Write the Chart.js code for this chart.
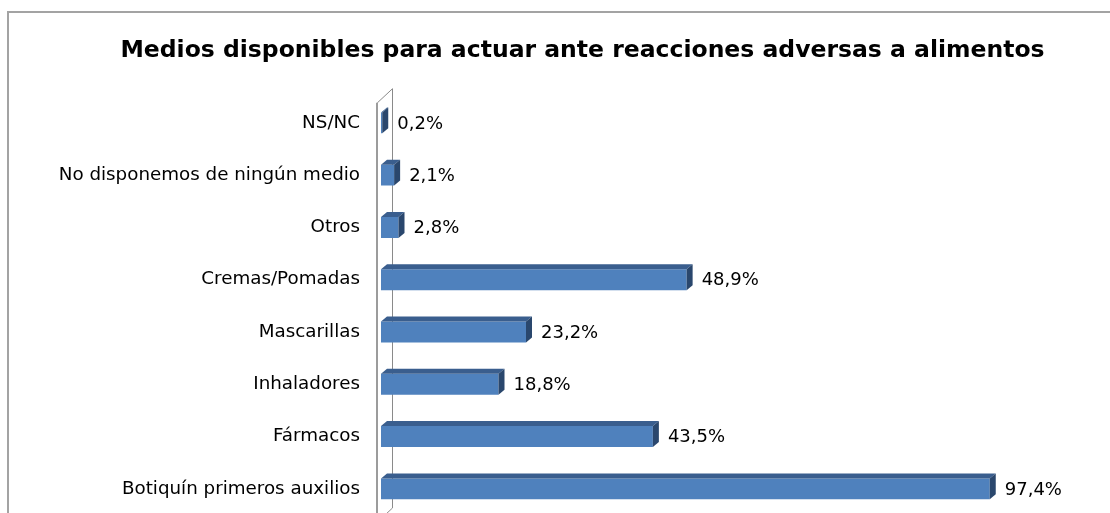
<!DOCTYPE html>
<html lang="es">
<head>
<meta charset="utf-8">
<title>Medios disponibles</title>
<script src="https://cdn.jsdelivr.net/npm/chart.js@4.4.1/dist/chart.umd.min.js"></script>
<style>
  html, body { margin: 0; padding: 0; background: #fff; overflow: hidden; }
  body { width: 1110px; height: 513px; position: relative; }
  #frame {
    position: absolute; left: 7px; top: 11px;
    border: 2px solid #a3a3a3;
    width: 1147px; height: 560px;
  }
  canvas { display: block; }
</style>
</head>
<body>
<div id="frame"><canvas id="chart" width="1147" height="540"></canvas></div>
<script>
// categorias (de arriba a abajo) y porcentajes
const categorias = [
  "NS/NC",
  "No disponemos de ningún medio",
  "Otros",
  "Cremas/Pomadas",
  "Mascarillas",
  "Inhaladores",
  "Fármacos",
  "Botiquín primeros auxilios"
];
const porcentajes = [0.2, 2.1, 2.8, 48.9, 23.2, 18.8, 43.5, 97.4];

const X_MAX = 124;
const FUENTE = "'DejaVu Sans', Verdana, sans-serif";

const colorFrente = "#4F81BD";
const colorArriba = "#3A5E8E";
const colorLado = "#2A476D";
const DX = 6, DY = 5;

// pared del fondo (efecto 3D)
const pared = {
  id: "pared",
  beforeDatasetsDraw(chart) {
    const { ctx, chartArea } = chart;
    const x0 = chart.scales.x.getPixelForValue(0);
    const fx = x0 - 3.5, bx = x0 + 11.5;
    ctx.save();
    ctx.strokeStyle = "#8a8a8a";
    ctx.lineWidth = 1;
    ctx.beginPath();
    ctx.moveTo(fx, chartArea.bottom + 7);
    ctx.lineTo(fx, chartArea.top + 6);
    ctx.lineTo(bx, chartArea.top - 8);
    ctx.lineTo(bx, chartArea.bottom - 7);
    ctx.lineTo(fx, chartArea.bottom + 7);
    ctx.stroke();
    ctx.lineWidth = 2;
    ctx.strokeStyle = "#9c9c9c";
    ctx.beginPath();
    ctx.moveTo(fx - 0.5, chartArea.bottom + 7);
    ctx.lineTo(fx - 0.5, chartArea.top + 6);
    ctx.stroke();
    ctx.restore();
  }
};

// caras superior y lateral de cada barra + etiquetas de valor
const barras3d = {
  id: "barras3d",
  afterDatasetsDraw(chart) {
    const { ctx } = chart;
    const meta = chart.getDatasetMeta(0);
    ctx.save();
    meta.data.forEach((bar, i) => {
      const p = bar.getProps(["x", "y", "base", "height"], true);
      const top = p.y - p.height / 2;
      const bottom = p.y + p.height / 2;
      // cara superior
      ctx.fillStyle = colorArriba;
      ctx.beginPath();
      ctx.moveTo(p.base, top);
      ctx.lineTo(p.base + DX, top - DY);
      ctx.lineTo(p.x + DX, top - DY);
      ctx.lineTo(p.x, top);
      ctx.closePath();
      ctx.fill();
      // cara lateral
      ctx.fillStyle = colorLado;
      ctx.beginPath();
      ctx.moveTo(p.x, top);
      ctx.lineTo(p.x + DX, top - DY);
      ctx.lineTo(p.x + DX, bottom - DY);
      ctx.lineTo(p.x, bottom);
      ctx.closePath();
      ctx.fill();
      // valor
      ctx.fillStyle = "#000";
      ctx.font = "18px " + FUENTE;
      ctx.textAlign = "left";
      ctx.textBaseline = "middle";
      const txt = porcentajes[i].toFixed(1).replace(".", ",") + "%";
      ctx.fillText(txt, p.x + 15, p.y + 1);
    });
    ctx.restore();
  }
};

new Chart(document.getElementById("chart"), {
  type: "bar",
  data: {
    labels: categorias,
    datasets: [{
      data: porcentajes,
      backgroundColor: colorFrente,
      borderWidth: 0,
      categoryPercentage: 0.8,
      barPercentage: 0.5
    }]
  },
  options: {
    indexAxis: "y",
    responsive: false,
    animation: false,
    layout: { padding: { top: 0, left: 0, right: 0, bottom: 38 } },
    plugins: {
      legend: { display: false },
      tooltip: { enabled: false },
      title: {
        display: true,
        text: "Medios disponibles para actuar ante reacciones adversas a alimentos",
        color: "#000",
        font: { family: FUENTE, size: 23.5, weight: "bold", lineHeight: 1.2 },
        padding: { top: 24, bottom: 31.5 }
      }
    },
    scales: {
      x: { display: false, min: 0, max: X_MAX },
      y: {
        grid: { display: false, drawTicks: false },
        border: { display: false },
        ticks: {
          color: "#000",
          padding: 21,
          font: { family: FUENTE, size: 18.3 }
        },
        afterFit(scale) { scale.width = 372; }
      }
    }
  },
  plugins: [pared, barras3d]
});
</script>
</body>
</html>
